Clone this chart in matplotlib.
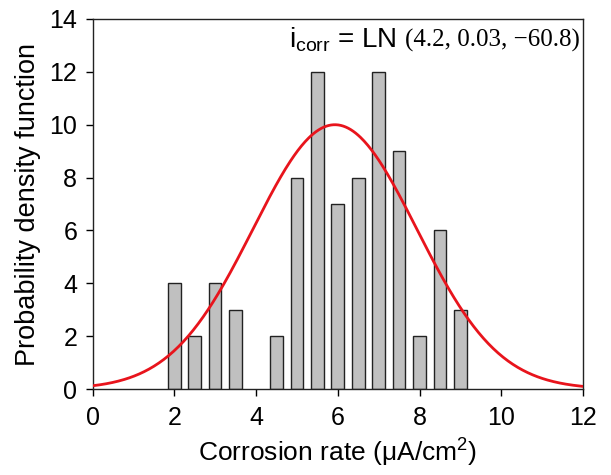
import matplotlib
matplotlib.use("Agg")
import matplotlib.pyplot as plt
import numpy as np
from matplotlib.offsetbox import AnchoredOffsetbox, HPacker, TextArea

# histogram bars (bin centre, count)
bin_centers = [2.0, 2.5, 3.0, 3.5, 4.5, 5.0, 5.5, 6.0, 6.5, 7.0, 7.5, 8.0, 8.5, 9.0]
counts = [4, 2, 4, 3, 2, 8, 12, 7, 8, 12, 9, 2, 6, 3]

# fitted curve (peak height, centre, spread)
fit_peak = 10.0
fit_center = 5.93
fit_spread = 2.0

x_ticks = [0, 2, 4, 6, 8, 10, 12]
y_ticks = [0, 2, 4, 6, 8, 10, 12, 14]

plt.rcParams["font.family"] = ["Liberation Sans", "DejaVu Sans"]
plt.rcParams["mathtext.fontset"] = "custom"
plt.rcParams["mathtext.rm"] = "Liberation Sans"

fig = plt.figure(figsize=(6.11, 4.75), dpi=100)
ax = fig.add_axes([0.1514, 0.181, 0.8028, 0.779])

ax.bar(bin_centers, counts, width=0.31, color="#c0c0c0",
       edgecolor="#222222", linewidth=1.0, zorder=2)

xs = np.linspace(0, 12, 400)
ys = fit_peak * np.exp(-0.5 * ((xs - fit_center) / fit_spread) ** 2)
ax.plot(xs, ys, color="#e8141c", linewidth=2.0, zorder=3)

ax.set_xlim(0, 12)
ax.set_ylim(0, 14)
ax.set_xticks(x_ticks)
ax.set_yticks(y_ticks)
ax.tick_params(direction="out", length=5, width=1, labelsize=18,
               top=False, right=False)
ax.tick_params(axis="y", pad=6)
ax.tick_params(axis="x", pad=7)
for s in ax.spines.values():
    s.set_linewidth(1.0)
    s.set_color("#222222")

ax.set_xlabel(r"Corrosion rate ($\mathregular{\mu}$A/cm$^\mathregular{2}$)",
              fontsize=19, labelpad=4)
ax.set_ylabel("Probability density function", fontsize=19.5, labelpad=6)

# annotation: sans part + serif part
t1 = TextArea(r"$\mathregular{i_{corr}}$ = LN",
              textprops=dict(fontsize=20, family="Liberation Sans"))
t2 = TextArea("(4.2, 0.03, \u221260.8)",
              textprops=dict(fontsize=18, family="Liberation Serif"))
box = HPacker(children=[t1, t2], align="baseline", pad=0, sep=6)
anch = AnchoredOffsetbox(loc="upper right", child=box, pad=0.1,
                         frameon=False, bbox_to_anchor=(1.0, 0.993),
                         bbox_transform=ax.transAxes, borderpad=0.15)
ax.add_artist(anch)

fig.savefig("out.png", dpi=100)
